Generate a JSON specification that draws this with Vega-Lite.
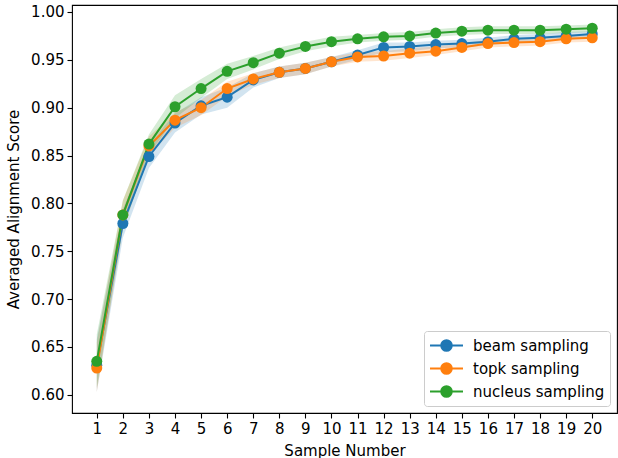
{
  "$schema": "https://vega.github.io/schema/vega-lite/v6.json",
  "autosize": "none",
  "width": 545,
  "height": 408,
  "padding": {"left": 72, "top": 5, "right": 1, "bottom": 45},
  "background": "white",
  "config": {
    "view": {"stroke": "black", "strokeWidth": 1.1},
    "font": "DejaVu Sans",
    "axis": {
      "grid": false,
      "domain": false,
      "tickColor": "black",
      "tickWidth": 1.1,
      "tickSize": 5,
      "labelFont": "DejaVu Sans",
      "labelFontSize": 15,
      "labelColor": "black",
      "titleFont": "DejaVu Sans",
      "titleFontSize": 15,
      "titleFontWeight": "normal",
      "titleColor": "black"
    }
  },
  "data": {
    "values": [
      {"n": 1, "method": "beam sampling", "score": 0.631, "lo": 0.603, "hi": 0.658},
      {"n": 2, "method": "beam sampling", "score": 0.779, "lo": 0.764, "hi": 0.794},
      {"n": 3, "method": "beam sampling", "score": 0.849, "lo": 0.837, "hi": 0.861},
      {"n": 4, "method": "beam sampling", "score": 0.884, "lo": 0.874, "hi": 0.894},
      {"n": 5, "method": "beam sampling", "score": 0.902, "lo": 0.893, "hi": 0.911},
      {"n": 6, "method": "beam sampling", "score": 0.911, "lo": 0.900, "hi": 0.921},
      {"n": 7, "method": "beam sampling", "score": 0.929, "lo": 0.921, "hi": 0.936},
      {"n": 8, "method": "beam sampling", "score": 0.937, "lo": 0.931, "hi": 0.943},
      {"n": 9, "method": "beam sampling", "score": 0.941, "lo": 0.935, "hi": 0.947},
      {"n": 10, "method": "beam sampling", "score": 0.948, "lo": 0.943, "hi": 0.953},
      {"n": 11, "method": "beam sampling", "score": 0.955, "lo": 0.950, "hi": 0.960},
      {"n": 12, "method": "beam sampling", "score": 0.963, "lo": 0.958, "hi": 0.968},
      {"n": 13, "method": "beam sampling", "score": 0.964, "lo": 0.959, "hi": 0.968},
      {"n": 14, "method": "beam sampling", "score": 0.966, "lo": 0.962, "hi": 0.970},
      {"n": 15, "method": "beam sampling", "score": 0.967, "lo": 0.963, "hi": 0.971},
      {"n": 16, "method": "beam sampling", "score": 0.969, "lo": 0.965, "hi": 0.973},
      {"n": 17, "method": "beam sampling", "score": 0.972, "lo": 0.968, "hi": 0.976},
      {"n": 18, "method": "beam sampling", "score": 0.973, "lo": 0.969, "hi": 0.977},
      {"n": 19, "method": "beam sampling", "score": 0.975, "lo": 0.971, "hi": 0.979},
      {"n": 20, "method": "beam sampling", "score": 0.977, "lo": 0.973, "hi": 0.980},
      {"n": 1, "method": "topk sampling", "score": 0.628, "lo": 0.603, "hi": 0.655},
      {"n": 2, "method": "topk sampling", "score": 0.788, "lo": 0.773, "hi": 0.803},
      {"n": 3, "method": "topk sampling", "score": 0.860, "lo": 0.850, "hi": 0.870},
      {"n": 4, "method": "topk sampling", "score": 0.887, "lo": 0.879, "hi": 0.895},
      {"n": 5, "method": "topk sampling", "score": 0.900, "lo": 0.892, "hi": 0.908},
      {"n": 6, "method": "topk sampling", "score": 0.920, "lo": 0.912, "hi": 0.927},
      {"n": 7, "method": "topk sampling", "score": 0.930, "lo": 0.924, "hi": 0.936},
      {"n": 8, "method": "topk sampling", "score": 0.937, "lo": 0.931, "hi": 0.943},
      {"n": 9, "method": "topk sampling", "score": 0.941, "lo": 0.935, "hi": 0.947},
      {"n": 10, "method": "topk sampling", "score": 0.948, "lo": 0.943, "hi": 0.953},
      {"n": 11, "method": "topk sampling", "score": 0.953, "lo": 0.948, "hi": 0.958},
      {"n": 12, "method": "topk sampling", "score": 0.954, "lo": 0.949, "hi": 0.959},
      {"n": 13, "method": "topk sampling", "score": 0.957, "lo": 0.952, "hi": 0.962},
      {"n": 14, "method": "topk sampling", "score": 0.959, "lo": 0.955, "hi": 0.964},
      {"n": 15, "method": "topk sampling", "score": 0.963, "lo": 0.959, "hi": 0.967},
      {"n": 16, "method": "topk sampling", "score": 0.967, "lo": 0.963, "hi": 0.971},
      {"n": 17, "method": "topk sampling", "score": 0.968, "lo": 0.964, "hi": 0.972},
      {"n": 18, "method": "topk sampling", "score": 0.969, "lo": 0.965, "hi": 0.973},
      {"n": 19, "method": "topk sampling", "score": 0.972, "lo": 0.968, "hi": 0.976},
      {"n": 20, "method": "topk sampling", "score": 0.973, "lo": 0.969, "hi": 0.977},
      {"n": 1, "method": "nucleus sampling", "score": 0.635, "lo": 0.607, "hi": 0.663},
      {"n": 2, "method": "nucleus sampling", "score": 0.788, "lo": 0.773, "hi": 0.803},
      {"n": 3, "method": "nucleus sampling", "score": 0.862, "lo": 0.851, "hi": 0.872},
      {"n": 4, "method": "nucleus sampling", "score": 0.901, "lo": 0.889, "hi": 0.913},
      {"n": 5, "method": "nucleus sampling", "score": 0.920, "lo": 0.910, "hi": 0.930},
      {"n": 6, "method": "nucleus sampling", "score": 0.938, "lo": 0.930, "hi": 0.946},
      {"n": 7, "method": "nucleus sampling", "score": 0.947, "lo": 0.940, "hi": 0.954},
      {"n": 8, "method": "nucleus sampling", "score": 0.957, "lo": 0.951, "hi": 0.963},
      {"n": 9, "method": "nucleus sampling", "score": 0.964, "lo": 0.959, "hi": 0.969},
      {"n": 10, "method": "nucleus sampling", "score": 0.969, "lo": 0.964, "hi": 0.974},
      {"n": 11, "method": "nucleus sampling", "score": 0.972, "lo": 0.968, "hi": 0.976},
      {"n": 12, "method": "nucleus sampling", "score": 0.974, "lo": 0.970, "hi": 0.978},
      {"n": 13, "method": "nucleus sampling", "score": 0.975, "lo": 0.971, "hi": 0.979},
      {"n": 14, "method": "nucleus sampling", "score": 0.978, "lo": 0.974, "hi": 0.982},
      {"n": 15, "method": "nucleus sampling", "score": 0.980, "lo": 0.976, "hi": 0.984},
      {"n": 16, "method": "nucleus sampling", "score": 0.981, "lo": 0.977, "hi": 0.985},
      {"n": 17, "method": "nucleus sampling", "score": 0.981, "lo": 0.977, "hi": 0.985},
      {"n": 18, "method": "nucleus sampling", "score": 0.981, "lo": 0.977, "hi": 0.985},
      {"n": 19, "method": "nucleus sampling", "score": 0.982, "lo": 0.978, "hi": 0.986},
      {"n": 20, "method": "nucleus sampling", "score": 0.983, "lo": 0.979, "hi": 0.987}
    ]
  },
  "encoding": {
    "x": {
      "field": "n",
      "type": "quantitative",
      "scale": {"domain": [0.05, 20.95], "nice": false, "zero": false},
      "axis": {
        "title": "Sample Number",
        "values": [1,2,3,4,5,6,7,8,9,10,11,12,13,14,15,16,17,18,19,20],
        "format": "d",
        "labelPadding": 3,
        "titlePadding": 7
      }
    },
    "color": {
      "field": "method",
      "type": "nominal",
      "scale": {
        "domain": ["beam sampling", "topk sampling", "nucleus sampling"],
        "range": ["#1f77b4", "#ff7f0e", "#2ca02c"]
      },
      "legend": {
        "title": null,
        "orient": "bottom-right",
        "offset": 7,
        "padding": 5,
        "strokeColor": "#cccccc",
        "fillColor": "white",
        "cornerRadius": 3,
        "labelFont": "DejaVu Sans",
        "labelFontSize": 15,
        "labelColor": "black",
        "labelOffset": 17,
        "rowPadding": 4,
        "symbolType": "M-1.94,0H1.94M0.62,0A0.62,0.62,0,1,1,-0.62,0A0.62,0.62,0,1,1,0.62,0Z",
        "symbolSize": 289,
        "symbolOffset": 8,
        "symbolStrokeWidth": 2,
        "symbolOpacity": 1,
        "encode": {
          "symbols": {
            "update": {
              "stroke": {"scale": "color", "field": "value"},
              "fill": {"scale": "color", "field": "value"},
              "opacity": {"value": 1}
            }
          }
        }
      }
    }
  },
  "layer": [
    {
      "mark": {"type": "area", "opacity": 0.2, "clip": true},
      "encoding": {
        "y": {
          "field": "lo",
          "type": "quantitative",
          "scale": {"domain": [0.581, 1.0073], "nice": false, "zero": false},
          "axis": {
            "title": "Averaged Alignment Score",
            "values": [0.6,0.65,0.7,0.75,0.8,0.85,0.9,0.95,1.0],
            "format": ".2f",
            "labelPadding": 3,
            "titlePadding": 9
          }
        },
        "y2": {"field": "hi"}
      }
    },
    {
      "mark": {"type": "line", "strokeWidth": 2, "clip": true},
      "encoding": {
        "y": {"field": "score", "type": "quantitative"}
      }
    },
    {
      "mark": {"type": "point", "filled": true, "size": 121, "opacity": 1, "clip": true},
      "encoding": {
        "y": {"field": "score", "type": "quantitative"}
      }
    }
  ]
}
